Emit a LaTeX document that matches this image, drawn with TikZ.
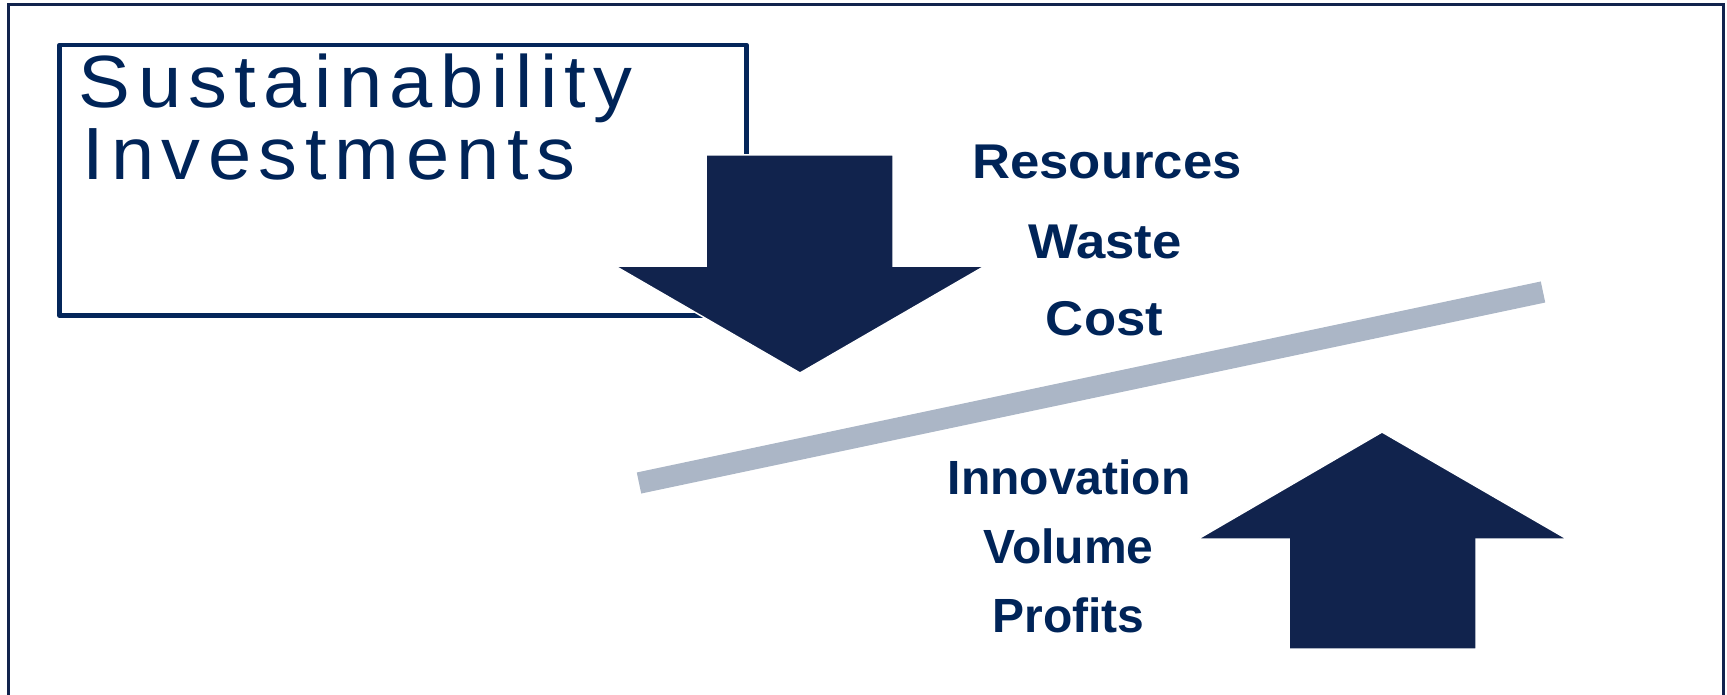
\documentclass[tikz,border=0pt]{standalone}
\usepackage{fontspec}
\setmainfont{Liberation Sans}
\newfontfamily\titlefont{Liberation Sans}[LetterSpace=10,FakeStretch=1.05]
\newfontfamily\lblfontA{Liberation Sans}[FakeStretch=1.08]
\newfontfamily\lblfontB{Liberation Sans}
\definecolor{navyfill}{RGB}{17,35,77}
\definecolor{navytext}{RGB}{0,36,88}
\definecolor{navyline}{RGB}{4,38,90}
\definecolor{bargray}{RGB}{171,182,198}
\tikzset{
  frameline/.style={draw=navyfill, line width=1.5pt},
  boxline/.style={draw=navyline, line width=2.25pt, line join=round},
  bigarrow/.style={fill=navyfill, draw=white, line width=0.75pt},
  seesaw/.style={draw=bargray, line width=10.75pt, line cap=butt},
  titletext/.style={inner sep=0pt, anchor=base west, text=navytext, font=\titlefont\fontsize{37}{37}\selectfont},
  toplabel/.style={inner sep=0pt, anchor=base, text=navytext, font=\lblfontA\bfseries\fontsize{24.4}{24.4}\selectfont},
  botlabel/.style={inner sep=0pt, anchor=base, text=navytext, font=\lblfontB\bfseries\fontsize{24}{24}\selectfont}
}
\begin{document}
\begin{tikzpicture}[x=0.5pt,y=-0.5pt]
\useasboundingbox (0,0) rectangle (1727,695);
% outer frame (open at the bottom edge)
\draw[frameline] (8,705) -- (8,4.5) -- (1723.5,4.5) -- (1723.5,705);
% title box
\draw[boxline] (59.5,45) rectangle (746.5,315.5);
% seesaw bar
\coordinate (barL) at (639,483);
\coordinate (barR) at (1543,292);
\draw[seesaw] (barL) -- (barR);
% down arrow
\draw[bigarrow] (706,155) -- (893,155) -- (893,266) -- (985,266) -- (800,373)
  -- (615,266) -- (706,266) -- cycle;
% up arrow
\draw[bigarrow] (1382,432) -- (1567,539) -- (1476,539) -- (1476,649) -- (1289,649)
  -- (1289,539) -- (1198,539) -- cycle;
% title
\node[titletext] (t1) at (78.5,108) {Sustainability};
\node[titletext] (t2) at (82,180) {Investments};
% labels
\node[toplabel] (res) at (1107,179) {Resources};
\node[toplabel] (waste) at (1105,258) {Waste};
\node[toplabel] (cost) at (1104.5,335) {Cost};
\node[botlabel] (innov) at (1069,494) {Innovation};
\node[botlabel] (vol) at (1068.5,563) {Volume};
\node[botlabel] (prof) at (1068.5,632) {Profits};
\end{tikzpicture}
\end{document}
